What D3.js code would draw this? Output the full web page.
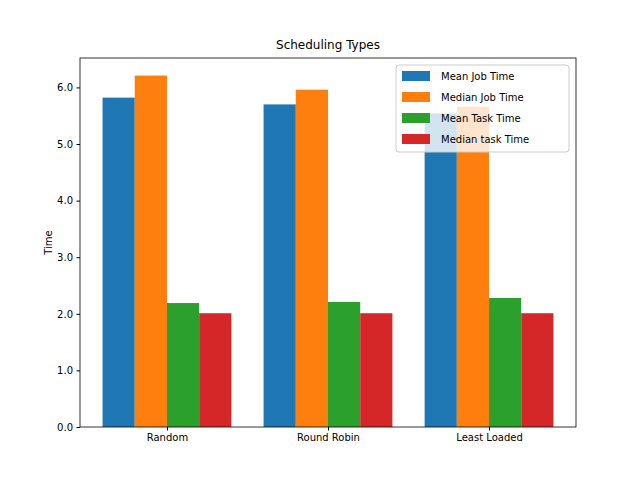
<!DOCTYPE html>
<html><head><meta charset="utf-8">
<script src="https://cdn.jsdelivr.net/npm/d3@7"></script>
<style>body{margin:0;background:#fff}text{font-family:"DejaVu Sans",sans-serif}</style>
</head><body><svg id="c" width="640" height="480"></svg>
<script>
const categories = ["Random","Round Robin","Least Loaded"];
const seriesNames = ["Mean Job Time","Median Job Time","Mean Task Time","Median task Time"];
const meanJob = [5.82,5.70,5.54];
const medianJob = [6.21,5.96,5.66];
const meanTask = [2.19,2.21,2.28];
const medianTask = [2.01,2.01,2.01];
const yTicks = [0,1,2,3,4,5,6];
const colors = ["#1f77b4","#ff7f0e","#2ca02c","#d62728"];
const series = [meanJob,medianJob,meanTask,medianTask];

const svg = d3.select("#c");
const L=80,R=576,T=58,B=427;
const x = d3.scaleLinear().domain([-0.54,2.54]).range([L,R]);
const y = d3.scaleLinear().domain([0,6.52]).range([B,T]);
const w=0.2;
series.forEach((s,i)=>{
  svg.selectAll(null).data(s).enter().append("rect")
    .attr("x",(d,j)=>x(j-0.4+i*w)).attr("width",x(w)-x(0))
    .attr("y",d=>y(d)).attr("height",d=>y(0)-y(d)).attr("fill",colors[i]);
});
const ax = svg.append("g").attr("transform",`translate(0,${B})`)
  .call(d3.axisBottom(x).tickValues([0,1,2]).tickFormat(i=>categories[i]).tickSizeOuter(0).tickSize(3.5).tickPadding(3.5));
const ay = svg.append("g").attr("transform",`translate(${L},0)`)
  .call(d3.axisLeft(y).tickValues(yTicks).tickSizeOuter(0).tickSize(3.5).tickPadding(3.5));
[ax,ay].forEach(g=>{g.selectAll("text").attr("font-size",10).attr("fill","#000").attr("font-family","DejaVu Sans");g.select(".domain").remove();g.selectAll("line").attr("stroke","#000");});
svg.append("rect").attr("x",L).attr("y",T).attr("width",R-L).attr("height",B-T).attr("fill","none").attr("stroke","#000").attr("stroke-width",0.8);
svg.append("text").attr("x",(L+R)/2).attr("y",T-9).attr("text-anchor","middle").attr("font-size",12).text("Scheduling Types");
svg.append("text").attr("transform",`translate(${52},${(T+B)/2}) rotate(-90)`).attr("text-anchor","middle").attr("font-size",10).text("Time");
const lg = svg.append("g");
lg.append("rect").attr("x",396).attr("y",65).attr("width",173).attr("height",87).attr("rx",3).attr("fill","#fff").attr("fill-opacity",0.8).attr("stroke","#ccc");
seriesNames.forEach((n,i)=>{
  const cy=76+i*21;
  lg.append("rect").attr("x",402).attr("y",cy-5).attr("width",28).attr("height",10).attr("fill",colors[i]);
  lg.append("text").attr("x",441).attr("y",cy+4).attr("font-size",10).text(n);
});
</script></body></html>
